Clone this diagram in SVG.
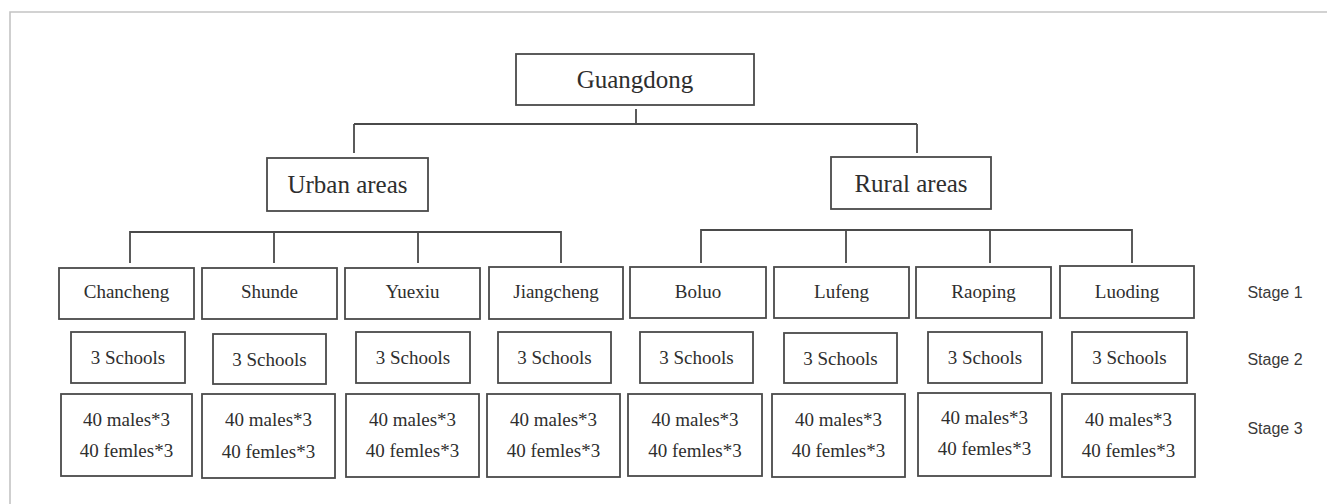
<svg xmlns="http://www.w3.org/2000/svg" width="1327" height="504" viewBox="0 0 1327 504">
<style>
.box{fill:#fff;stroke:#4a4a4a;stroke-width:1.8}
.con{fill:none;stroke:#4a4a4a;stroke-width:1.8}
text.t{font-family:'Liberation Serif','Times New Roman','DejaVu Serif',serif;fill:#2e2e2e;text-anchor:middle}
text.big{font-size:25px}
text.mid{font-size:19px}
text.stage{font-family:'Liberation Sans',Arial,sans-serif;font-size:16px;fill:#3a3a3a;text-anchor:middle}
.frame{stroke:#c4c4c4;stroke-width:1.6;fill:none}
</style>
<rect width="1327" height="504" fill="#fff"/>
<path class="frame" d="M10,504 V12 H1327"/>
<g id="connectors">
<path class="con" d="M636,109 V124 M354,124 H917 M354,124 V153 M917,124 V153"/>
<path class="con" d="M130,263 V232 H561 V263 M274,232 V263 M418,232 V263"/>
<path class="con" d="M701,263 V230 H1132 V263 M846,230 V263 M990,230 V263"/>
</g>
<g font-family="Liberation Serif, Times New Roman, DejaVu Serif, serif">
<g id="guangdong"><rect class="box" x="516" y="54" width="238" height="51"/><text class="t big" x="635" y="88">Guangdong</text></g>
<g id="urban"><rect class="box" x="267" y="158" width="161" height="53"/><text class="t big" x="347.5" y="193">Urban areas</text></g>
<g id="rural"><rect class="box" x="831" y="157" width="160" height="52"/><text class="t big" x="911" y="192">Rural areas</text></g>

<g id="chancheng"><rect class="box" x="59" y="268" width="135" height="51"/><text class="t mid" x="126.5" y="298">Chancheng</text></g>
<g id="shunde"><rect class="box" x="202" y="268" width="135" height="51"/><text class="t mid" x="269.5" y="298">Shunde</text></g>
<g id="yuexiu"><rect class="box" x="345" y="268" width="135" height="51"/><text class="t mid" x="412.5" y="298">Yuexiu</text></g>
<g id="jiangcheng"><rect class="box" x="489" y="267" width="134" height="52"/><text class="t mid" x="556" y="298">Jiangcheng</text></g>
<g id="boluo"><rect class="box" x="630" y="267" width="136" height="51"/><text class="t mid" x="698" y="298">Boluo</text></g>
<g id="lufeng"><rect class="box" x="774" y="267" width="135" height="51"/><text class="t mid" x="841.5" y="298">Lufeng</text></g>
<g id="raoping"><rect class="box" x="916" y="267" width="135" height="51"/><text class="t mid" x="983.5" y="298">Raoping</text></g>
<g id="luoding"><rect class="box" x="1060" y="266" width="134" height="52"/><text class="t mid" x="1127" y="298">Luoding</text></g>

<g id="s2-chancheng"><rect class="box" x="71" y="332" width="114" height="51"/><text class="t mid" x="128" y="364">3 Schools</text></g>
<g id="s2-shunde"><rect class="box" x="213" y="334" width="113" height="50"/><text class="t mid" x="269.5" y="366">3 Schools</text></g>
<g id="s2-yuexiu"><rect class="box" x="356" y="332" width="114" height="51"/><text class="t mid" x="413" y="364">3 Schools</text></g>
<g id="s2-jiangcheng"><rect class="box" x="498" y="332" width="113" height="51"/><text class="t mid" x="554.5" y="364">3 Schools</text></g>
<g id="s2-boluo"><rect class="box" x="640" y="332" width="113" height="51"/><text class="t mid" x="696.5" y="364">3 Schools</text></g>
<g id="s2-lufeng"><rect class="box" x="784" y="333" width="113" height="50"/><text class="t mid" x="840.5" y="365">3 Schools</text></g>
<g id="s2-raoping"><rect class="box" x="928" y="332" width="114" height="51"/><text class="t mid" x="985" y="364">3 Schools</text></g>
<g id="s2-luoding"><rect class="box" x="1072" y="332" width="115" height="51"/><text class="t mid" x="1129.5" y="364">3 Schools</text></g>

<g id="s3-chancheng"><rect class="box" x="61" y="394" width="131" height="82"/><text class="t mid" x="126.5" y="426">40 males*3</text><text class="t mid" x="126.5" y="457">40 femles*3</text></g>
<g id="s3-shunde"><rect class="box" x="202" y="394" width="133" height="84"/><text class="t mid" x="268.5" y="426">40 males*3</text><text class="t mid" x="268.5" y="458">40 femles*3</text></g>
<g id="s3-yuexiu"><rect class="box" x="346" y="394" width="133" height="83"/><text class="t mid" x="412.5" y="426">40 males*3</text><text class="t mid" x="412.5" y="457">40 femles*3</text></g>
<g id="s3-jiangcheng"><rect class="box" x="487" y="394" width="133" height="83"/><text class="t mid" x="553.5" y="426">40 males*3</text><text class="t mid" x="553.5" y="457">40 femles*3</text></g>
<g id="s3-boluo"><rect class="box" x="628" y="394" width="134" height="82"/><text class="t mid" x="695" y="426">40 males*3</text><text class="t mid" x="695" y="457">40 femles*3</text></g>
<g id="s3-lufeng"><rect class="box" x="772" y="394" width="133" height="83"/><text class="t mid" x="838.5" y="426">40 males*3</text><text class="t mid" x="838.5" y="457">40 femles*3</text></g>
<g id="s3-raoping"><rect class="box" x="918" y="393" width="133" height="83"/><text class="t mid" x="984.5" y="424">40 males*3</text><text class="t mid" x="984.5" y="455">40 femles*3</text></g>
<g id="s3-luoding"><rect class="box" x="1062" y="394" width="133" height="83"/><text class="t mid" x="1128.5" y="426">40 males*3</text><text class="t mid" x="1128.5" y="457">40 femles*3</text></g>
</g>
<g id="stage1"><text class="stage" x="1275" y="298">Stage 1</text></g>
<g id="stage2"><text class="stage" x="1275" y="365">Stage 2</text></g>
<g id="stage3"><text class="stage" x="1275" y="434">Stage 3</text></g>
</svg>
